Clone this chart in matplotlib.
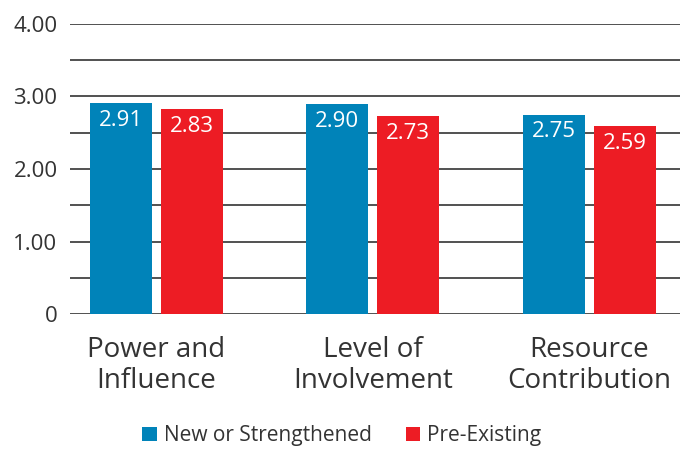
import matplotlib
matplotlib.use("Agg")
import matplotlib.pyplot as plt
import numpy as np

categories = ["Power and\nInfluence", "Level of\nInvolvement", "Resource\nContribution"]
new_or_strengthened = [2.91, 2.90, 2.75]
pre_existing = [2.83, 2.73, 2.59]
series_names = ["New or Strengthened", "Pre-Existing"]
y_ticks = [0, 1, 2, 3, 4]
y_tick_labels = ["0", "1.00", "2.00", "3.00", "4.00"]

BLUE = "#0083B9"
RED = "#ED1C24"
TEXT = "#333333"

plt.rcParams["font.family"] = ["Open Sans", "DejaVu Sans"]

fig = plt.figure(figsize=(6.8, 4.5), dpi=100)
ax = fig.add_axes([0.103, 0.302, 0.897, 0.645])

x = np.arange(len(categories))
width = 0.287
offset = 0.164

bars_a = ax.bar(x - offset, new_or_strengthened, width, color=BLUE, zorder=3,
                label=series_names[0])
bars_b = ax.bar(x + offset, pre_existing, width, color=RED, zorder=3,
                label=series_names[1])

for bars, vals in ((bars_a, new_or_strengthened), (bars_b, pre_existing)):
    for b, v in zip(bars, vals):
        ax.annotate(f"{v:.2f}", (b.get_x() + b.get_width() / 2, v),
                    xytext=(0, -5), textcoords="offset points",
                    ha="center", va="top", color="white", fontsize=16)

# horizontal rules every half unit
for g in np.arange(0, 4.01, 0.5):
    ax.axhline(g, color="#222222", lw=1.1, zorder=1)

ax.set_xlim(-0.40, 2.42)
ax.set_ylim(0, 4)
ax.set_yticks(y_ticks)
ax.set_yticklabels(y_tick_labels, fontsize=16, color=TEXT)
ax.set_xticks(x)
ax.set_xticklabels(categories, fontsize=20, color=TEXT, linespacing=1.15)
ax.tick_params(axis="both", length=0)
ax.tick_params(axis="y", pad=9)
ax.tick_params(axis="x", pad=16)
for s in ax.spines.values():
    s.set_visible(False)

leg = fig.legend(handles=[bars_a, bars_b], labels=series_names,
                 loc="center", bbox_to_anchor=(0.503, 0.032), ncol=2,
                 frameon=False, fontsize=15, handlelength=0.7,
                 handleheight=0.7, handletextpad=0.35, columnspacing=1.6)
for t in leg.get_texts():
    t.set_color(TEXT)

fig.savefig("out.png", dpi=100)
